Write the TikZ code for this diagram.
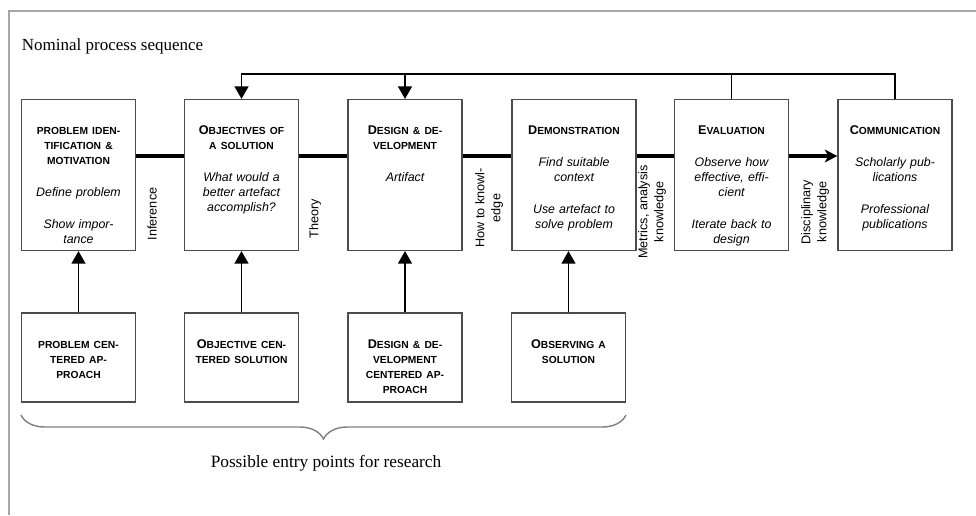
\documentclass[tikz,border=0pt]{standalone}
\usepackage{fontspec}
\setmainfont{Liberation Serif}
\setsansfont{Liberation Sans}
\usetikzlibrary{arrows.meta,decorations.pathreplacing}

\newcommand\hd[1]{{\bfseries\fontsize{7.3}{10.7}\selectfont #1}}
\newcommand\ini[1]{{\fontsize{9}{10.7}\selectfont #1}}

\tikzset{
	stage/.style={draw=black!70, line width=0.8pt, inner sep=0pt, 
		minimum width=2.85cm, text width=2.7cm, align=center, 
		text height=0.87cm, text depth=2.905cm, 
		font=\sffamily\fontsize{8.8}{10.7}\selectfont},
	wide/.style={minimum width=3.1cm, text width=2.95cm},
	entry/.style={stage, text height=0.89cm, text depth=1.335cm},
	link/.style={line width=1.1pt, -{Triangle[width=10pt,length=9pt]}},
	flow/.style={line width=2.8pt},
	side/.style={rotate=90, align=center, 
		font=\sffamily\fontsize{9}{11.4}\selectfont}
}

\begin{document}
\begin{tikzpicture}[
		line join=miter, 
		line cap=butt
		]
		
		\useasboundingbox (0,0) rectangle (24.4,-12.875);
		
		\draw[gray!70, line width=1.2pt] 
		(0.225,-12.875) -- (0.225,-0.275) -- (24.4,-0.275);
		
		\node[anchor=west, inner sep=0pt, font=\fontsize{12.1}{14}\selectfont] 
		(title) at (0.54,-1.15) {Nominal process sequence};
		
		\node[stage] (pim) at (1.9625,-4.375) 
		{\hd{PROBLEM IDEN-\\TIFICATION \&\\MOTIVATION}\\[12pt]
			{\itshape Define problem}\\[12pt]{\itshape Show impor-\\tance}};
		\node[stage] (obj) at (6.0375,-4.375) 
		{\hd{\ini{O}BJECTIVES OF\\A SOLUTION}\\[12pt]
			{\itshape What would a\\better artefact\\accomplish?}};
		\node[stage] (dev) at (10.125,-4.375) 
		{\hd{\ini{D}ESIGN \& DE-\\VELOPMENT}\\[12pt]{\itshape Artifact}};
		\node[stage, wide] (demo) at (14.35,-4.375) 
		{\hd{\ini{D}EMONSTRATION}\\[12pt]
			{\itshape Find suitable\\context}\\[12pt]
			{\itshape Use artefact to\\solve problem}};
		\node[stage] (eval) at (18.2875,-4.375) 
		{\hd{\ini{E}VALUATION}\\[12pt]
			{\itshape Observe how\\effective, effi-\\cient}\\[12pt]
			{\itshape Iterate back to\\design}};
		\node[stage] (comm) at (22.375,-4.375) 
		{\hd{\ini{C}OMMUNICATION}\\[12pt]
			{\itshape Scholarly pub-\\lications}\\[12pt]
			{\itshape Professional\\publications}};
		
		\node[entry] (epa) at (1.9625,-8.9375) 
		{\hd{PROBLEM CEN-\\TERED AP-\\PROACH}};
		\node[entry] (eob) at (6.0375,-8.9375) 
		{\hd{\ini{O}BJECTIVE CEN-\\TERED SOLUTION}};
		\node[entry] (edd) at (10.125,-8.9375) 
		{\hd{\ini{D}ESIGN \& DE-\\VELOPMENT\\CENTERED AP-\\PROACH}};
		\node[entry] (eos) at (14.2125,-8.9375) 
		{\hd{\ini{O}BSERVING A\\SOLUTION}};
		
		\draw[link] (epa) -- (pim);
		\draw[link] (eob) -- (obj);
		\draw[link] (edd) -- (dev);
		\draw[link] (eos.north) -- (eos.north |- demo.south);
		
		\coordinate (spine) at (0,-3.9);
		\foreach \a/\b in {pim/obj, obj/dev, dev/demo, demo/eval} {
			\draw[flow] (\a.east |- spine) -- (\b.west |- spine);
		}
		\draw[flow, -{Stealth[length=9pt,width=9pt,inset=2.5pt]}] 
		(eval.east |- spine) -- (comm.west |- spine);
		
		\coordinate (ret) at (0,-1.85);
		\draw[link] (comm.north) -- (comm.north |- ret) -- 
		(obj.north |- ret) -- (obj.north);
		\draw[line width=1.1pt] (eval.north) -- (eval.north |- ret);
		\draw[link] (dev.north |- ret) -- (dev.north);
		
		\node[side] (inf) at (3.8,-5.35) {Inference};
		\node[side] (thy) at (7.875,-5.475) {Theory};
		\node[side] (how) at (12.225,-5.2) {How to knowl-\\edge};
		\node[side] (met) at (16.3,-5.3) {Metrics, analysis\\knowledge};
		\node[side] (dis) at (20.375,-5.3) {Disciplinary\\knowledge};
		
		\coordinate (brc) at (0,-10.375);
		\draw[gray, line width=1pt, decorate, 
		decoration={brace, mirror, amplitude=0.6cm}] 
		(epa.west |- brc) -- (eos.east |- brc);
		
		\node[font=\fontsize{12.3}{14}\selectfont] (note) at (8.15,-11.575) 
		{Possible entry points for research};
		
	\end{tikzpicture}
\end{document}
